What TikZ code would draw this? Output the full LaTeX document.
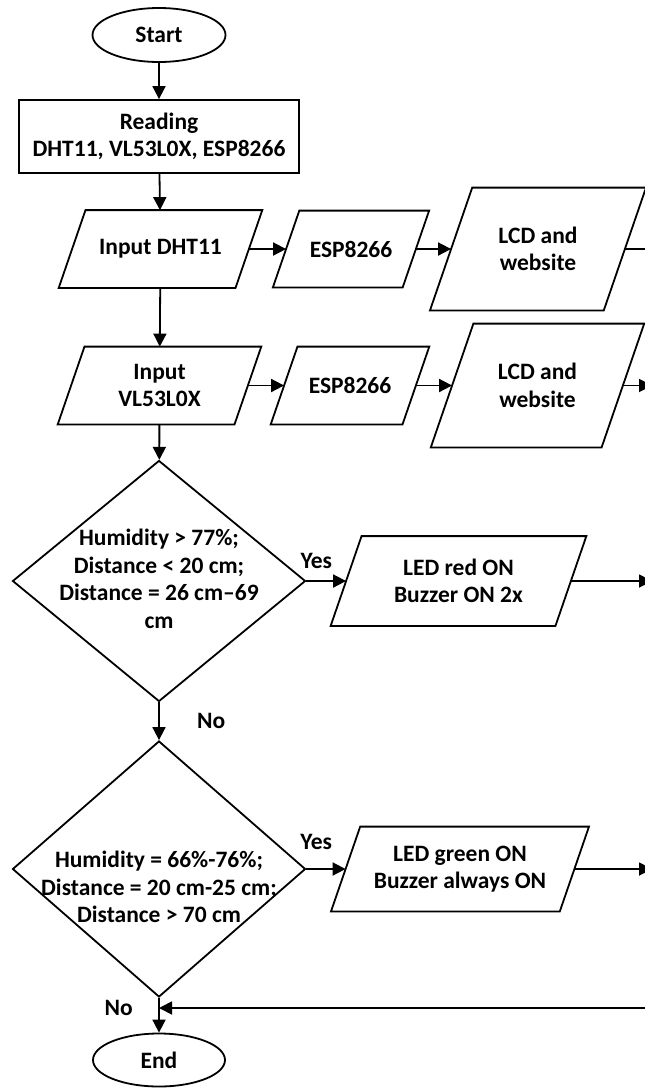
\documentclass[tikz,border=0pt]{standalone}
\usepackage{fontspec}
\setmainfont{Carlito}
\usetikzlibrary{shapes, arrows, positioning, calc, arrows.meta}

\begin{document}
\begin{tikzpicture}[x=1pt, y=-1pt, line width=1.8pt, -{Triangle[length=13pt, width=13pt]},
  every node/.style={font=\bfseries\fontsize{23.5}{27.5}\selectfont},
  terminal/.style={ellipse, draw, minimum width=133pt, minimum height=54pt, inner sep=0pt},
  process/.style={rectangle, draw, align=center, minimum width=280pt, minimum height=73pt},
  io/.style={rectangle, align=center, inner sep=0pt},
  decision/.style={diamond, draw, inner sep=0pt}]
  \clip (0,0) rectangle (645,1088);

  \node[terminal] (start) at (159,35) {Start};
  \node[process] (read) at (159,136.5) {Reading\\DHT11, VL53L0X, ESP8266};

  % sensor rows
  \node[io, minimum width=175pt, minimum height=76pt] (in1) at (160.5,249) {Input DHT11};
  \node[io, minimum width=128pt, minimum height=75pt] (esp1) at (351,249) {ESP8266};
  \node[io, minimum width=172pt, minimum height=121pt] (lcd1) at (538,249) {LCD and\\website};
  \node[io, minimum width=175pt, minimum height=76pt] (in2) at (159.5,385.5) {Input\\VL53L0X};
  \node[io, minimum width=130pt, minimum height=76pt] (esp2) at (350,385.5) {ESP8266};
  \node[io, minimum width=169pt, minimum height=122pt] (lcd2) at (537.5,385.5) {LCD and\\website};

  % decisions
  \node[decision, minimum width=293pt, minimum height=241pt] (chk1) at (159,581) {};
  \node[align=center] (txt1) at (159,579) {Humidity > 77\%;\\Distance < 20 cm;\\Distance = 26 cm--69\\cm};
  \node[io, minimum width=223pt, minimum height=88pt] (red) at (458.5,581) {LED red ON\\Buzzer ON 2x};
  \node[decision, minimum width=293pt, minimum height=256pt] (chk2) at (159,869) {};
  \node[align=center] (txt2) at (159,887) {Humidity = 66\%-76\%;\\Distance = 20 cm-25 cm;\\Distance > 70 cm};
  \node[io, minimum width=227pt, minimum height=83pt] (green) at (460,869) {LED green ON\\Buzzer always ON};
  \node[terminal, minimum width=132pt, minimum height=53pt] (end) at (159,1060) {End};

  % slanted outlines of the input/output boxes
  \foreach \b in {in1, esp1, lcd1, in2, esp2, lcd2, red, green}
    \draw[-] let \p1=(\b.south west), \p2=(\b.north east), \n1={0.172*(\y2-\y1)} in
      ({\x1-\n1},\y1) -- ({\x2-\n1},\y1) -- ({\x2+\n1},\y2) -- ({\x1+\n1},\y2) -- cycle;

  \coordinate (e1) at (665,249);
  \coordinate (e2) at (652,385.5);
  \coordinate (e3) at (652,581);
  \coordinate (e4) at (652,869);
  \coordinate (e5) at (665,1008);

  \path (start) edge (read)
        (read) edge (in1)
        (in1) edge (esp1)
        (esp1) edge (lcd1)
        (lcd1) edge (e1)
        (in1) edge (in2)
        (in2) edge (esp2)
        (esp2) edge (lcd2)
        (lcd2) edge (e2)
        (in2) edge (chk1)
        (chk1) edge node[pos=0.25, above=8pt] {Yes} (red)
        (red) edge (e3)
        (chk1) edge node[right=34pt] {No} (chk2)
        (chk2) edge node[pos=0.25, above=15pt] {Yes} (green)
        (green) edge (e4)
        (chk2) edge node[pos=0.3, left=22pt] {No} (end)
        (e5) edge (chk2.south |- e5);
\end{tikzpicture}
\end{document}
